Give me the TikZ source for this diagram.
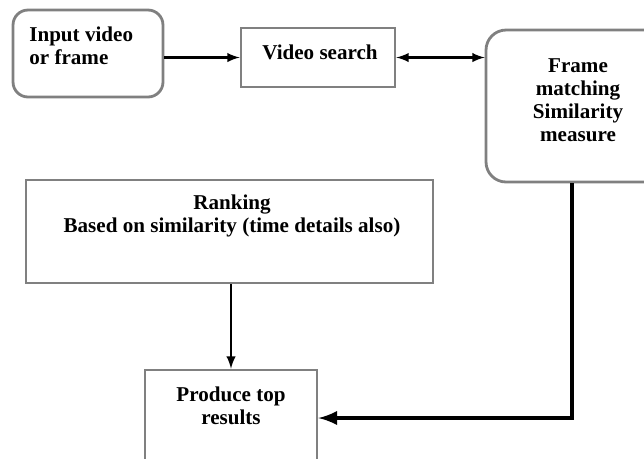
\documentclass[tikz,border=0pt]{standalone}
\usepackage{fontspec}
\setmainfont{Liberation Serif}
\usepackage{tikz}
\usetikzlibrary{arrows}
\tikzstyle{roundbox} = [rectangle, rounded corners = 0.3cm, draw = black!50,
  line width = 1.6pt]
\tikzstyle{plainbox} = [rectangle, draw = black!50, line width = 1.6pt]
\tikzstyle{caption} = [font = \fontsize{12}{13}\selectfont\bfseries,
  inner sep = 0pt]
\tikzstyle{arrow} = [line width = 1.4pt, ->, >=latex]
\tikzstyle{heavyarrow} = [line width = 2.6pt, ->, >=latex]

\begin{document}
\begin{tikzpicture}[x = 0.02cm, y = -0.02cm]
  \useasboundingbox (0,0) rectangle (644,458);
  \clip (0,0) rectangle (644,458);

  % boxes
  \node (input) [roundbox, minimum width = 3cm, minimum height = 1.74cm] at (88,53.5) {};
  \node (search) [plainbox, minimum width = 3.08cm, minimum height = 1.18cm] at (318,57.5) {};
  \node (frame) [roundbox, rounded corners = 0.4cm, minimum width = 3.68cm,
    minimum height = 3.04cm] at (578,106) {};
  \node (ranking) [plainbox, minimum width = 8.14cm, minimum height = 2.06cm] at (229.5,231.5) {};
  \node (produce) [plainbox, minimum width = 3.44cm, minimum height = 1.92cm] at (231,418) {};

  % texts
  \node (input-text) [caption, align = left, anchor = west] at (29,46) {Input video\\or frame};
  \node (search-text) [caption] at (320,52) {Video search};
  \node (frame-text) [caption, align = center] at (578,100) {Frame\\matching\\Similarity\\measure};
  \node (ranking-text) [caption, align = center] at (232,216) {Ranking\\Based on similarity (time details also)};
  \node (produce-text) [caption, align = center] at (231,406) {Produce top\\results};

  % connectors
  \draw [arrow] (input.east |- search.west) -- (search.west);
  \draw [arrow, <->] (search.east) -- (search.east -| frame.west);
  \draw [heavyarrow] ([xshift = -0.12cm]frame.south) |- (produce.east);
  \draw [arrow] (ranking.south -| produce.north) -- (produce.north);
\end{tikzpicture}
\end{document}
